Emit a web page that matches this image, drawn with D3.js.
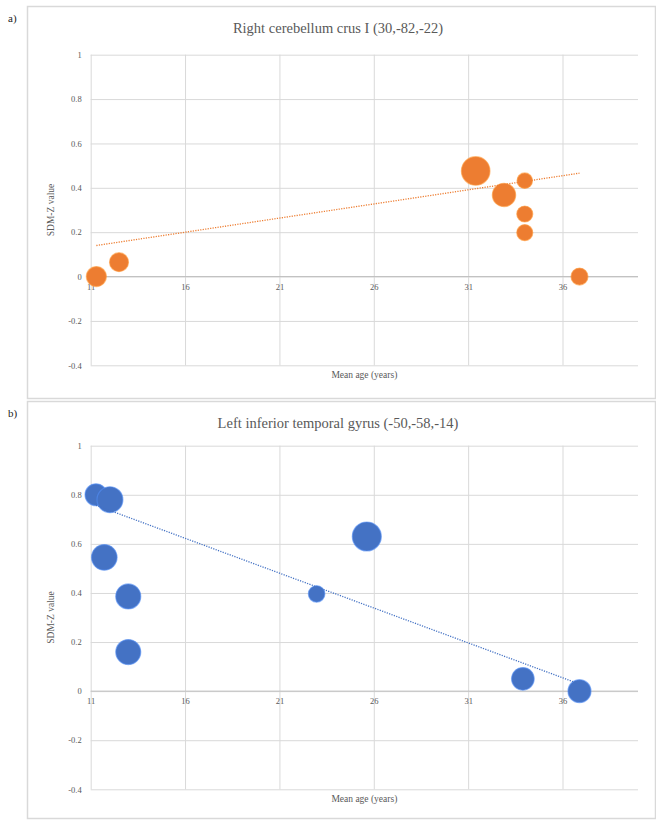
<!DOCTYPE html>
<html>
<head>
<meta charset="utf-8">
<script src="https://cdn.jsdelivr.net/npm/d3@7"></script>
<style>
  html, body { margin: 0; padding: 0; background: #fff; }
  svg { display: block; font-family: "Liberation Serif", "Times New Roman", serif; }
</style>
</head>
<body>
<div id="chart"></div>
<script>
// Shared axis values
const xTicks = [11, 16, 21, 26, 31, 36];
const yTicks = [1, 0.8, 0.6, 0.4, 0.2, 0, -0.2, -0.4];
const xDomain = [11, 40];
const yDomain = [-0.4, 1];

// Panel a) - right cerebellum crus I
const titleA = "Right cerebellum crus I (30,-82,-22)";
const agesA = [11.3, 12.5, 31.4, 32.9, 34.0, 34.0, 34.0, 36.9];
const zA = [0, 0.065, 0.476, 0.368, 0.432, 0.282, 0.198, 0];
const sizeA = [50, 45, 102, 68, 30, 32, 32, 36];
const trendA = [0.14, 0.466]; // fitted value at youngest and oldest age

// Panel b) - left inferior temporal gyrus
const titleB = "Left inferior temporal gyrus (-50,-58,-14)";
const agesB = [11.28, 12.02, 11.72, 12.99, 12.99, 22.97, 25.63, 33.9, 36.9];
const zB = [0.80, 0.78, 0.545, 0.386, 0.159, 0.396, 0.63, 0.05, 0];
const sizeB = [60, 84, 82, 78, 78, 34, 105, 64, 66];
const trendB = [0.757, 0.029];

const xLabel = "Mean age (years)";
const yLabel = "SDM-Z value";

const width = 656;
const height = 821;
const textColor = "#595959";
const gridColor = "#d9d9d9";

const svg = d3
  .select("#chart")
  .append("svg")
  .attr("width", width)
  .attr("height", height);

// Panel boxes and plot areas (pixel layout)
const panels = [
  {
    tag: "a)", title: titleA, ages: agesA, z: zA, size: sizeA, trend: trendA,
    color: "#ED7D31", box: [27, 6, 655, 398], plot: [90.7, 54.7, 638, 365.3], maxR: 14.3,
  },
  {
    tag: "b)", title: titleB, ages: agesB, z: zB, size: sizeB, trend: trendB,
    color: "#4472C4", box: [27, 401, 655, 818], plot: [90.7, 445.7, 638, 789.3], maxR: 14.5,
  },
];

panels.forEach(drawPanel);

function drawPanel(p) {
  const [bx0, by0, bx1, by1] = p.box;
  const [px0, py0, px1, py1] = p.plot;
  const g = svg.append("g");

  // Outer chart border
  g.append("rect")
    .attr("x", bx0 + 0.5)
    .attr("y", by0 + 0.5)
    .attr("width", bx1 - bx0)
    .attr("height", by1 - by0)
    .attr("fill", "#fff")
    .attr("stroke", gridColor)
    .attr("stroke-width", 1.5);

  // Panel tag
  svg.append("text")
    .attr("x", 8)
    .attr("y", by0 + 16)
    .attr("font-size", 11)
    .attr("fill", "#222")
    .text(p.tag);

  // Title
  g.append("text")
    .attr("x", (bx0 + bx1) / 2 - 3)
    .attr("y", by0 + 27)
    .attr("text-anchor", "middle")
    .attr("font-size", 14.5)
    .attr("fill", textColor)
    .text(p.title);

  const x = d3.scaleLinear().domain(xDomain).range([px0, px1]);
  const y = d3.scaleLinear().domain(yDomain).range([py1, py0]);
  const r = d3.scaleSqrt().domain([0, d3.max(p.size)]).range([0, p.maxR]);

  // Horizontal gridlines
  g.append("g")
    .attr("transform", `translate(${px0},0)`)
    .call(d3.axisLeft(y).tickValues(yTicks).tickSize(-(px1 - px0)).tickFormat(""))
    .call((s) => s.select(".domain").remove())
    .call((s) => s.selectAll("line").attr("stroke", gridColor));

  // Vertical gridlines
  g.append("g")
    .attr("transform", `translate(0,${py1})`)
    .call(d3.axisBottom(x).tickValues(xTicks).tickSize(-(py1 - py0)).tickFormat(""))
    .call((s) => s.select(".domain").remove())
    .call((s) => s.selectAll("line").attr("stroke", gridColor));

  // Horizontal axis line at zero
  g.append("line")
    .attr("x1", px0)
    .attr("x2", px1)
    .attr("y1", y(0))
    .attr("y2", y(0))
    .attr("stroke", "#bfbfbf");

  // Y tick labels
  g.append("g")
    .attr("transform", `translate(${px0},0)`)
    .call(d3.axisLeft(y).tickValues(yTicks).tickSize(0).tickPadding(9).tickFormat((d) => String(d)))
    .call((s) => s.select(".domain").remove())
    .call((s) =>
      s.selectAll("text")
        .attr("font-family", "Liberation Serif, serif")
        .attr("font-size", 8.5)
        .attr("fill", textColor)
    );

  // X tick labels sit under the zero line
  g.append("g")
    .attr("transform", `translate(0,${y(0)})`)
    .call(d3.axisBottom(x).tickValues(xTicks).tickSize(0).tickPadding(7).tickFormat((d) => String(d)))
    .call((s) => s.select(".domain").remove())
    .call((s) =>
      s.selectAll("text")
        .attr("font-family", "Liberation Serif, serif")
        .attr("font-size", 8.5)
        .attr("fill", textColor)
    );

  // Axis titles
  g.append("text")
    .attr("x", (px0 + px1) / 2)
    .attr("y", py1 + 13)
    .attr("text-anchor", "middle")
    .attr("font-size", 9.5)
    .attr("fill", textColor)
    .text(xLabel);

  g.append("text")
    .attr("transform", `translate(${52},${(py0 + py1) / 2}) rotate(-90)`)
    .attr("text-anchor", "middle")
    .attr("dominant-baseline", "middle")
    .attr("font-size", 9.5)
    .attr("fill", textColor)
    .text(yLabel);

  // Bubbles
  const pts = p.ages.map((a, i) => ({ age: a, z: p.z[i], n: p.size[i] }));
  g.append("g")
    .selectAll("circle")
    .data(pts)
    .join("circle")
    .attr("cx", (d) => x(d.age))
    .attr("cy", (d) => y(d.z))
    .attr("r", (d) => r(d.n))
    .attr("fill", p.color)
    .attr("stroke", d3.color(p.color).brighter(0.6))
    .attr("stroke-opacity", 0.6)
    .attr("stroke-width", 1.2);

  // Linear trendline over the data's age range
  const trendPts = [
    { age: d3.min(p.ages), z: p.trend[0] },
    { age: d3.max(p.ages), z: p.trend[1] },
  ];
  const line = d3.line().x((d) => x(d.age)).y((d) => y(d.z));
  g.append("path")
    .attr("d", line(trendPts))
    .attr("fill", "none")
    .attr("stroke", p.color)
    .attr("stroke-width", 1.3)
    .attr("stroke-dasharray", "1.2,1.3");
}
</script>
</body>
</html>
